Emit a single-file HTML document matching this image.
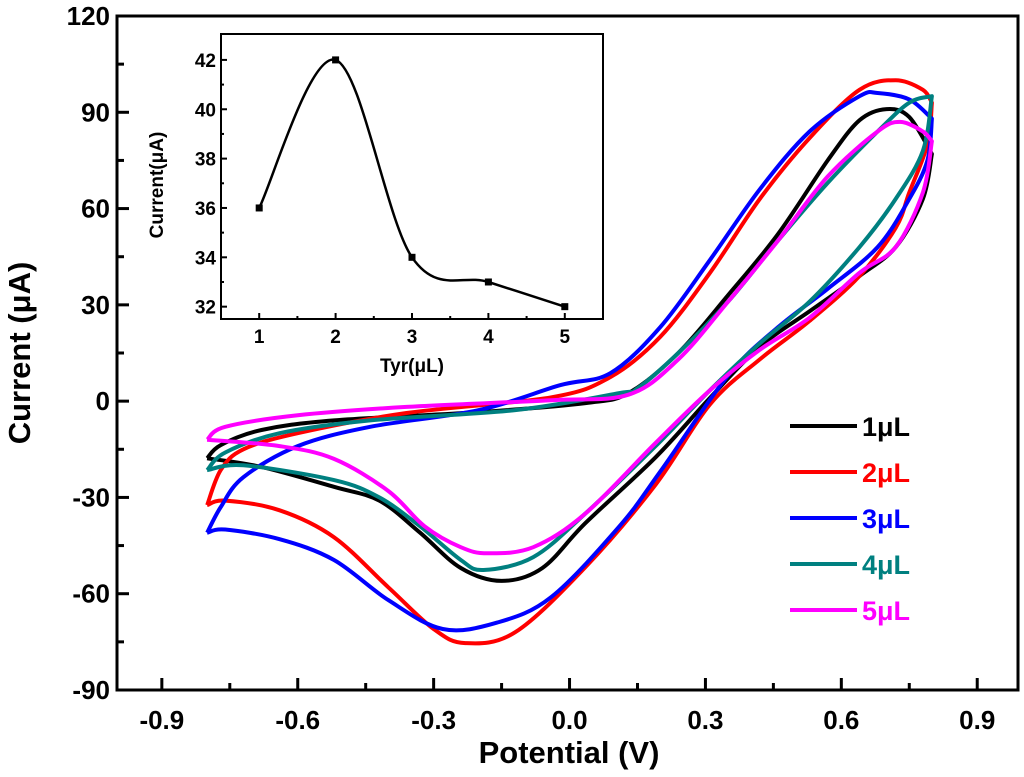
<!DOCTYPE html>
<html><head><meta charset="utf-8"><style>
html,body{margin:0;padding:0;background:#fff;}
svg{display:block;font-family:"Liberation Sans",sans-serif;font-weight:bold;}
</style></head><body>
<svg id="chart" width="1024" height="777" viewBox="0 0 1024 777"></svg>
<script>
// ---- main chart data ----
const seriesNames = ["1μL","2μL","3μL","4μL","5μL"];
const seriesColors = ["#000000","#ff0000","#0000ff","#008080","#ff00ff"];
const s1V = [-0.8,-0.77,-0.68,-0.52,-0.2,0.035,0.13,0.24,0.35,0.46,0.57,0.64,0.70,0.75,0.8, 0.78,0.72,0.64,0.53,0.42,0.31,0.19,0.035,-0.06,-0.15,-0.24,-0.33,-0.42,-0.52,-0.68,-0.8];
const s1I = [-17.8,-13.7,-9,-6,-3.4,-0.6,2.5,15,33,52,75,87.5,91,88.5,77, 63,48,39,28,17,1,-17.5,-38,-52,-56,-52,-41,-31,-26.7,-20.5,-17.8];
const s2V = [-0.8,-0.77,-0.72,-0.6,-0.36,-0.04,0.09,0.2,0.31,0.42,0.53,0.64,0.72,0.78,0.8, 0.79,0.75,0.72,0.64,0.53,0.42,0.31,0.19,0.035,-0.12,-0.23,-0.3,-0.4,-0.52,-0.64,-0.76,-0.8];
const s2I = [-32.4,-21.5,-15,-10,-3.7,1.2,7.5,20,40,63,82,97,100,97,93, 80,65,54,39,25,13,-1,-26,-51.7,-72,-75.4,-71,-58,-42.4,-34,-31,-32.4];
const s3V = [-0.8,-0.77,-0.72,-0.6,-0.44,-0.2,-0.02,0.09,0.2,0.31,0.42,0.53,0.64,0.68,0.75,0.8, 0.79,0.75,0.68,0.57,0.46,0.35,0.2,0.11,-0.04,-0.16,-0.28,-0.4,-0.52,-0.64,-0.76,-0.8];
const s3I = [-41,-33,-23.7,-14,-8,-2.8,5,8.7,23,44,66,84,95,96,94,88, 75,63,48,35,23,8,-22,-39,-61,-69,-71,-62,-49.5,-43,-40,-41];
const s4V = [-0.8,-0.76,-0.64,-0.44,-0.12,0.11,0.15,0.24,0.35,0.46,0.57,0.68,0.75,0.8, 0.78,0.72,0.64,0.53,0.42,0.31,0.19,0.035,-0.08,-0.19,-0.24,-0.33,-0.42,-0.52,-0.72,-0.8];
const s4I = [-21.5,-16,-10,-6,-2.8,2.5,4,15,31,50,68,84,93,95, 78,63,48,31,18,3.4,-14,-35,-48.6,-52.6,-49.5,-39,-30,-24.6,-20,-21.5];
const s5V = [-0.8,-0.76,-0.6,-0.36,-0.04,0.13,0.24,0.35,0.46,0.57,0.68,0.73,0.78,0.8, 0.78,0.72,0.64,0.53,0.42,0.31,0.19,0.035,-0.08,-0.18,-0.24,-0.32,-0.4,-0.52,-0.64,-0.8];
const s5I = [-12,-8,-4.4,-1.8,0.3,2,13,31,50,70,84,87,84,81, 65,48,40,26,16,3.4,-13,-35,-45.5,-47.4,-45.5,-39,-28,-18,-14,-12];
const xTicks = [-0.9,-0.6,-0.3,0.0,0.3,0.6,0.9];
const xTickLabels = ["-0.9","-0.6","-0.3","0.0","0.3","0.6","0.9"];
const yTicks = [-90,-60,-30,0,30,60,90,120];
const yTickLabels = ["-90","-60","-30","0","30","60","90","120"];
// ---- inset data ----
const insetX = [1,2,3,4,5];
const insetY = [36,42,34,33,32];
const insetXTicks = [1,2,3,4,5];
const insetYTicks = [32,34,36,38,40,42];

const NS="http://www.w3.org/2000/svg";
const svg=document.getElementById('chart');
function el(tag,attrs,parent){const e=document.createElementNS(NS,tag);for(const k in attrs)e.setAttribute(k,attrs[k]);(parent||svg).appendChild(e);return e;}

const L=117,R=1018,T=16,B=690;
const xMin=-0.999,xMax=0.99,yMin=-90,yMax=120;
const xs=v=>L+(v-xMin)/(xMax-xMin)*(R-L);
const ys=v=>B-(v-yMin)/(yMax-yMin)*(B-T);

function smoothSeg(pts,start){
  let d=start?`M${pts[0][0]},${pts[0][1]}`:'';
  for(let i=0;i<pts.length-1;i++){
    const p0=pts[Math.max(i-1,0)],p1=pts[i],p2=pts[i+1],p3=pts[Math.min(i+2,pts.length-1)];
    const c1=[p1[0]+(p2[0]-p0[0])/6,p1[1]+(p2[1]-p0[1])/6];
    const c2=[p2[0]-(p3[0]-p1[0])/6,p2[1]-(p3[1]-p1[1])/6];
    d+=`C${c1[0].toFixed(1)},${c1[1].toFixed(1)} ${c2[0].toFixed(1)},${c2[1].toFixed(1)} ${p2[0].toFixed(1)},${p2[1].toFixed(1)}`;
  }
  return d;
}
function loopPath(V,I){
  let k=0;for(let i=0;i<V.length;i++)if(V[i]>V[k])k=i;
  const pts=V.map((v,i)=>[xs(v),ys(I[i])]);
  return smoothSeg(pts.slice(0,k+1),true)+smoothSeg(pts.slice(k),false);
}

const allV=[s1V,s2V,s3V,s4V,s5V], allI=[s1I,s2I,s3I,s4I,s5I];
const gSeries=el('g',{});


for(let s=0;s<5;s++){
  const p=el('path',{d:loopPath(allV[s],allI[s]),fill:'none',stroke:seriesColors[s],'stroke-width':4,'stroke-linejoin':'round'},gSeries);
  
  
}

const frame=el('rect',{x:L,y:T,width:R-L,height:B-T,fill:'none',stroke:'#000','stroke-width':3});



xTicks.forEach((v,i)=>{
  el('line',{x1:xs(v),x2:xs(v),y1:B,y2:B-12,stroke:'#000','stroke-width':3});
  if(i<xTicks.length-1){const m=v+0.15;el('line',{x1:xs(m),x2:xs(m),y1:B,y2:B-7,stroke:'#000','stroke-width':3});}
  const t=el('text',{x:xs(v),y:729,'text-anchor':'middle','font-size':26});
  t.textContent=xTickLabels[i];
  
  
});
yTicks.forEach((v,i)=>{
  el('line',{x1:L,x2:L+12,y1:ys(v),y2:ys(v),stroke:'#000','stroke-width':3});
  if(i<yTicks.length-1){const m=v+15;el('line',{x1:L,x2:L+7,y1:ys(m),y2:ys(m),stroke:'#000','stroke-width':3});}
  const t=el('text',{x:110,y:ys(v)+9,'text-anchor':'end','font-size':26});
  t.textContent=yTickLabels[i];
  
  
});
const xt=el('text',{x:569,y:763,'text-anchor':'middle','font-size':31});
xt.textContent='Potential (V)';


const yt=el('text',{x:0,y:0,'text-anchor':'middle','font-size':31,transform:'translate(30,353) rotate(-90)'});
yt.textContent='Current (μA)';



const gLeg=el('g',{});


seriesNames.forEach((n,i)=>{
  const y=426+i*46;
  el('line',{x1:790,x2:857,y1:y,y2:y,stroke:seriesColors[i],'stroke-width':4},gLeg);
  const t=el('text',{x:862,y:y+10,'font-size':27,fill:seriesColors[i]},gLeg);
  t.textContent=n;
  
  
});

const iL=221,iR=603,iT=34,iB=319;
const ixMin=0.5,ixMax=5.5,iyMin=31.5,iyMax=43.05;
const ixs=v=>iL+(v-ixMin)/(ixMax-ixMin)*(iR-iL);
const iys=v=>iB-(v-iyMin)/(iyMax-iyMin)*(iB-iT);
const gIn=el('g',{});


el('rect',{x:iL,y:iT,width:iR-iL,height:iB-iT,fill:'#fff',stroke:'#000','stroke-width':2},gIn);
const ipts=insetX.map((x,i)=>[ixs(x),iys(insetY[i])]);
const ic=el('path',{d:smoothSeg(ipts,true),fill:'none',stroke:'#000','stroke-width':2.5},gIn);


ipts.forEach(p=>{
  const m=el('rect',{x:p[0]-3.5,y:p[1]-3.5,width:7,height:7,fill:'#000'},gIn);
  
  
});
insetXTicks.forEach((v,i)=>{
  el('line',{x1:ixs(v),x2:ixs(v),y1:iB,y2:iB-6,stroke:'#000','stroke-width':2},gIn);
  if(i<insetXTicks.length-1)el('line',{x1:ixs(v+0.5),x2:ixs(v+0.5),y1:iB,y2:iB-3,stroke:'#000','stroke-width':2},gIn);
  const t=el('text',{x:ixs(v),y:iB+24,'text-anchor':'middle','font-size':19},gIn);
  t.textContent=String(v);
  
  
});
insetYTicks.forEach((v,i)=>{
  el('line',{x1:iL,x2:iL+6,y1:iys(v),y2:iys(v),stroke:'#000','stroke-width':2},gIn);
  if(i<insetYTicks.length-1)el('line',{x1:iL,x2:iL+3,y1:iys(v+1),y2:iys(v+1),stroke:'#000','stroke-width':2},gIn);
  const t=el('text',{x:iL-5,y:iys(v)+7,'text-anchor':'end','font-size':19},gIn);
  t.textContent=String(v);
  
  
});
const ixt=el('text',{x:ixs(3),y:372,'text-anchor':'middle','font-size':19},gIn);
ixt.textContent='Tyr(μL)';


const iyt=el('text',{x:0,y:0,'text-anchor':'middle','font-size':19,transform:'translate(163,185) rotate(-90)'},gIn);
iyt.textContent='Current(μA)';


</script>
</body></html>
